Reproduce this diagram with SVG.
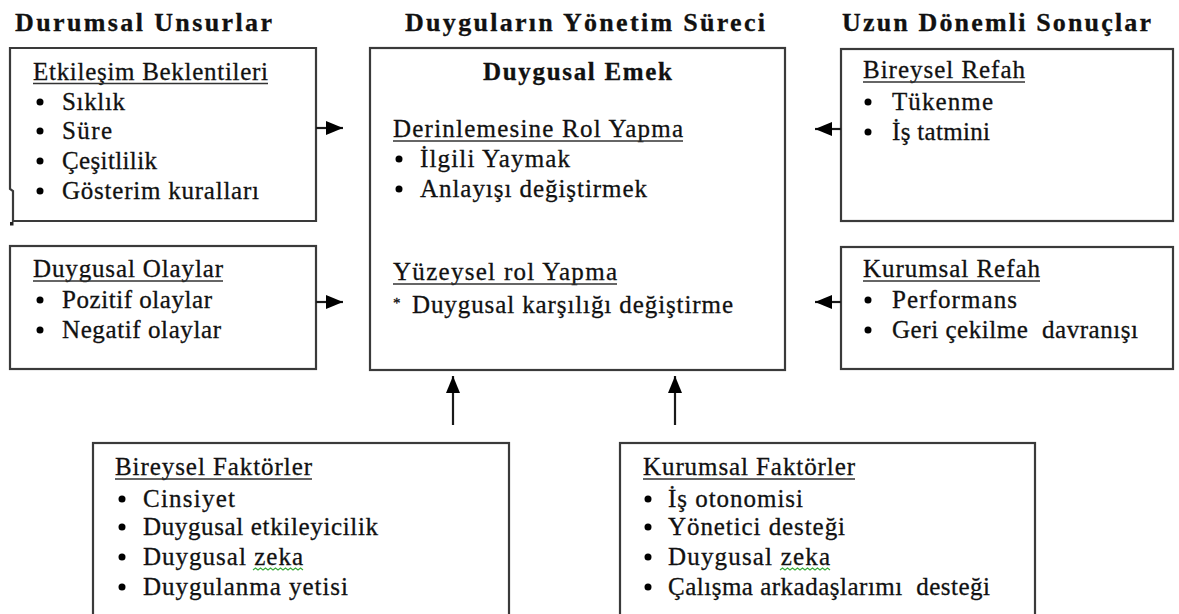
<svg xmlns="http://www.w3.org/2000/svg" width="1179" height="614" viewBox="0 0 1179 614">
  <defs>
    <style>
      .box { fill: #ffffff; stroke: #3a3a3a; stroke-width: 2.2; }
      .t { font-family: "Liberation Serif", "Times New Roman", serif; font-size: 25px; fill: #111111; stroke: #111111; stroke-width: 0.3; }
      .h { font-family: "Liberation Serif", "Times New Roman", serif; font-size: 26px; font-weight: bold; fill: #111111; stroke: #111111; stroke-width: 0.3; }
      .b { font-weight: bold; }
      .ul { stroke: #333333; stroke-width: 1.6; }
      .dot { fill: #000000; }
      .wave { fill: none; stroke: #3caa3c; stroke-width: 1.2; }
      .conn { stroke: #1a1a1a; stroke-width: 2.2; fill: none; marker-end: url(#head); }
    </style>
    <marker id="head" markerUnits="userSpaceOnUse" markerWidth="18" markerHeight="14" refX="17" refY="7" orient="auto">
      <path d="M0,0 L17,7 L0,14 z" fill="#000000"/>
    </marker>
  </defs>

  <rect width="1179" height="614" fill="#ffffff"/>

  <!-- column headings -->
  <g id="headings">
    <text class="h" x="15" y="31" textLength="257" lengthAdjust="spacing">Durumsal Unsurlar</text>
    <text class="h" x="405" y="31" textLength="360" lengthAdjust="spacing">Duyguların Yönetim Süreci</text>
    <text class="h" x="842" y="31" textLength="309" lengthAdjust="spacing">Uzun Dönemli Sonuçlar</text>
  </g>

  <!-- situational: interaction expectations -->
  <g id="etkilesim-beklentileri">
    <path class="box" d="M13,221 L316,221 L316,48 L10,48 L10,189 L13,191 Z"/>
    <rect x="10" y="222" width="3.5" height="3.5" fill="#222222"/>
    <text class="t" x="33" y="80" textLength="235" lengthAdjust="spacing">Etkileşim Beklentileri</text>
    <line class="ul" x1="33" y1="83.5" x2="268" y2="83.5"/>
    <circle class="dot" cx="40" cy="102" r="3.5"/>
    <text class="t" x="62" y="110" textLength="63" lengthAdjust="spacing">Sıklık</text>
    <circle class="dot" cx="40" cy="131" r="3.5"/>
    <text class="t" x="62" y="139" textLength="50" lengthAdjust="spacing">Süre</text>
    <circle class="dot" cx="40" cy="161" r="3.5"/>
    <text class="t" x="62" y="169" textLength="95" lengthAdjust="spacing">Çeşitlilik</text>
    <circle class="dot" cx="40" cy="191" r="3.5"/>
    <text class="t" x="62" y="199" textLength="197" lengthAdjust="spacing">Gösterim kuralları</text>
  </g>

  <!-- situational: emotional events -->
  <g id="duygusal-olaylar">
    <rect class="box" x="10" y="246" width="306" height="123"/>
    <text class="t" x="33" y="277" textLength="190" lengthAdjust="spacing">Duygusal Olaylar</text>
    <line class="ul" x1="33" y1="281" x2="223" y2="281"/>
    <circle class="dot" cx="40" cy="300" r="3.5"/>
    <text class="t" x="62" y="308" textLength="150" lengthAdjust="spacing">Pozitif olaylar</text>
    <circle class="dot" cx="40" cy="330" r="3.5"/>
    <text class="t" x="62" y="338" textLength="159" lengthAdjust="spacing">Negatif olaylar</text>
  </g>

  <!-- central process -->
  <g id="duygusal-emek">
    <rect class="box" x="370" y="48" width="415" height="322"/>
    <text class="t b" x="483" y="80" textLength="189" lengthAdjust="spacing">Duygusal Emek</text>
    <text class="t" x="393" y="137" textLength="290" lengthAdjust="spacing">Derinlemesine Rol Yapma</text>
    <line class="ul" x1="393" y1="141" x2="683" y2="141"/>
    <circle class="dot" cx="399" cy="159" r="3.5"/>
    <text class="t" x="420" y="167" textLength="150" lengthAdjust="spacing">İlgili Yaymak</text>
    <circle class="dot" cx="399" cy="189" r="3.5"/>
    <text class="t" x="420" y="197" textLength="227" lengthAdjust="spacing">Anlayışı değiştirmek</text>
    <text class="t" x="393" y="280" textLength="224" lengthAdjust="spacing">Yüzeysel rol Yapma</text>
    <line class="ul" x1="393" y1="284" x2="617" y2="284"/>
    <text class="t" x="393" y="313"><tspan font-size="15" dy="-5">*</tspan><tspan x="412" dy="5" textLength="321" lengthAdjust="spacing">Duygusal karşılığı değiştirme</tspan></text>
  </g>

  <!-- outcomes: individual wellbeing -->
  <g id="bireysel-refah">
    <rect class="box" x="841" y="49" width="332" height="172"/>
    <text class="t" x="863" y="78" textLength="162" lengthAdjust="spacing">Bireysel Refah</text>
    <line class="ul" x1="863" y1="82" x2="1025" y2="82"/>
    <circle class="dot" cx="868" cy="102" r="3.5"/>
    <text class="t" x="892" y="110" textLength="101" lengthAdjust="spacing">Tükenme</text>
    <circle class="dot" cx="868" cy="132" r="3.5"/>
    <text class="t" x="892" y="140" textLength="98" lengthAdjust="spacing">İş tatmini</text>
  </g>

  <!-- outcomes: organisational wellbeing -->
  <g id="kurumsal-refah">
    <rect class="box" x="841" y="247" width="332" height="122"/>
    <text class="t" x="863" y="277" textLength="177" lengthAdjust="spacing">Kurumsal Refah</text>
    <line class="ul" x1="863" y1="281" x2="1040" y2="281"/>
    <circle class="dot" cx="868" cy="300" r="3.5"/>
    <text class="t" x="892" y="308" textLength="125" lengthAdjust="spacing">Performans</text>
    <circle class="dot" cx="868" cy="330" r="3.5"/>
    <text class="t" x="892" y="338" textLength="246" lengthAdjust="spacing" xml:space="preserve">Geri çekilme  davranışı</text>
  </g>

  <!-- individual factors -->
  <g id="bireysel-faktorler">
    <rect class="box" x="93" y="443" width="416" height="200"/>
    <text class="t" x="115" y="475" textLength="197" lengthAdjust="spacing">Bireysel Faktörler</text>
    <line class="ul" x1="115" y1="479" x2="312" y2="479"/>
    <circle class="dot" cx="122" cy="499" r="3.5"/>
    <text class="t" x="143" y="507" textLength="92" lengthAdjust="spacing">Cinsiyet</text>
    <circle class="dot" cx="122" cy="527" r="3.5"/>
    <text class="t" x="143" y="535" textLength="235" lengthAdjust="spacing">Duygusal etkileyicilik</text>
    <circle class="dot" cx="122" cy="557" r="3.5"/>
    <text class="t" x="143" y="565" textLength="160" lengthAdjust="spacing">Duygusal zeka</text>
    <path class="wave" d="M253,570 l2.5,-2 l2.5,2 l2.5,-2 l2.5,2 l2.5,-2 l2.5,2 l2.5,-2 l2.5,2 l2.5,-2 l2.5,2 l2.5,-2 l2.5,2 l2.5,-2 l2.5,2 l2.5,-2 l2.5,2 l2.5,-2 l2.5,2 l2.5,-2 l2.5,2"/>
    <circle class="dot" cx="122" cy="587" r="3.5"/>
    <text class="t" x="143" y="595" textLength="205" lengthAdjust="spacing">Duygulanma yetisi</text>
  </g>

  <!-- organisational factors -->
  <g id="kurumsal-faktorler">
    <rect class="box" x="620" y="443" width="415" height="200"/>
    <text class="t" x="643" y="475" textLength="212" lengthAdjust="spacing">Kurumsal Faktörler</text>
    <line class="ul" x1="643" y1="479" x2="855" y2="479"/>
    <circle class="dot" cx="648" cy="499" r="3.5"/>
    <text class="t" x="668" y="507" textLength="135" lengthAdjust="spacing">İş otonomisi</text>
    <circle class="dot" cx="648" cy="527" r="3.5"/>
    <text class="t" x="668" y="535" textLength="177" lengthAdjust="spacing">Yönetici desteği</text>
    <circle class="dot" cx="648" cy="557" r="3.5"/>
    <text class="t" x="668" y="565" textLength="162" lengthAdjust="spacing">Duygusal zeka</text>
    <path class="wave" d="M780,570 l2.5,-2 l2.5,2 l2.5,-2 l2.5,2 l2.5,-2 l2.5,2 l2.5,-2 l2.5,2 l2.5,-2 l2.5,2 l2.5,-2 l2.5,2 l2.5,-2 l2.5,2 l2.5,-2 l2.5,2 l2.5,-2 l2.5,2 l2.5,-2 l2.5,2"/>
    <circle class="dot" cx="648" cy="587" r="3.5"/>
    <text class="t" x="668" y="595" textLength="322" lengthAdjust="spacing" xml:space="preserve">Çalışma arkadaşlarımı  desteği</text>
  </g>

  <!-- connectors -->
  <g id="connectors">
    <path class="conn" d="M316,128 L343,128"/>
    <path class="conn" d="M316,302 L343,302"/>
    <path class="conn" d="M841,129 L815,129"/>
    <path class="conn" d="M841,302 L815,302"/>
    <path class="conn" d="M453,425 L453,376"/>
    <path class="conn" d="M675,425 L675,376"/>
  </g>
</svg>
